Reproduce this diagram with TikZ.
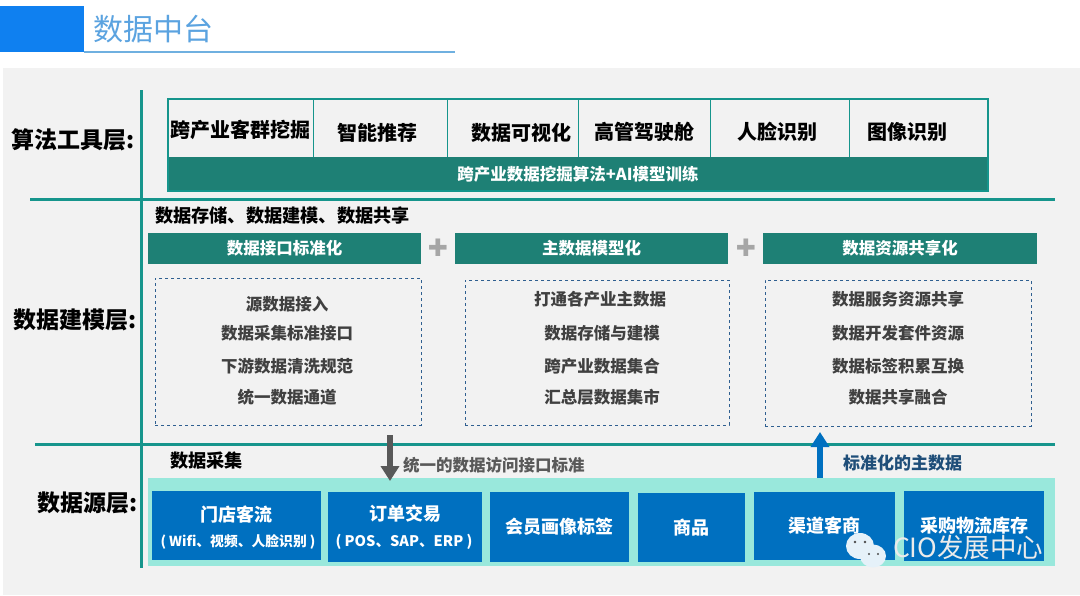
\documentclass[tikz,border=0pt]{standalone}
\usepackage{xcolor}
\usepackage{fontspec}
\setmainfont{Noto Sans CJK SC}
\newfontfamily\symfont{DejaVu Sans}
\usetikzlibrary{positioning, arrows.meta}
\definecolor{titleBlue}{HTML}{0F80F0}
\definecolor{titleText}{HTML}{5BA3E0}
\definecolor{titleLine}{HTML}{6FB0E0}
\definecolor{pageGrey}{HTML}{F2F2F2}
\definecolor{tealLine}{HTML}{16958C}
\definecolor{tealBand}{HTML}{1E8075}
\definecolor{aquaBand}{HTML}{99E8DC}
\definecolor{srcBlue}{HTML}{0070C0}
\definecolor{inkGrey}{HTML}{404040}
\definecolor{arrowGrey}{HTML}{595959}
\definecolor{plusGrey}{HTML}{A6A6A6}
\definecolor{dashBlue}{HTML}{2F5F90}
\definecolor{navyText}{HTML}{1F4E79}
\newcommand{\px}[1]{\fontsize{#1}{#1}\selectfont}
\tikzset{
  every node/.append style={outer sep=0pt},
  layerlbl/.style = {font=\px{23}\bfseries, text=black, inner sep=0pt},
  sublbl/.style   = {font=\px{18.2}\bfseries, text=black, inner sep=0pt},
  toolcell/.style = {draw=tealLine, line width=.8pt, anchor=north west, minimum height=58pt, inner sep=0pt},
  tooltext/.style = {font=\px{20}\bfseries, text=black, inner sep=0pt},
  header/.style   = {fill=tealBand, text=white, font=\px{16.5}\bfseries, minimum width=273pt,
                     minimum height=31pt, inner sep=0pt, anchor=north west},
  plussign/.style = {font=\symfont\px{24}, text=plusGrey, inner sep=0pt},
  zone/.style     = {draw=dashBlue, dashed, line width=.7pt, anchor=north west, inner sep=0pt},
  rowtext/.style  = {font=\px{16.5}\bfseries, text=inkGrey, inner sep=0pt, minimum height=20pt},
  src/.style      = {fill=srcBlue, text=white, font=\px{18}\bfseries, inner sep=0pt, anchor=north west},
  srcsub/.style   = {font=\px{13.8}\bfseries, text=white, inner sep=0pt},
  rule/.style     = {draw=tealLine, line width=3pt},
  fl/.style       = {-{Triangle[length=15pt, width=18pt]}, line width=6pt}
}
\begin{document}
\begin{tikzpicture}[x=1pt, y=-1pt, node distance=0pt]
  \useasboundingbox (0,0) rectangle (1080,595);
  \fill[white] (0,0) rectangle (1080,595);

  % --- page ground and title
  \node[fill=pageGrey, anchor=north west, minimum width=1077pt, minimum height=527pt, inner sep=0pt] (page) at (3,68) {};
  \node[fill=titleBlue, anchor=north west, minimum width=84pt, minimum height=46.5pt, inner sep=0pt] (titlebar) at (0,5.5) {};
  \node[font=\px{30}, text=titleText, inner sep=0pt, anchor=west] (title) at (93,29) {数据中台};
  \coordinate (titleend) at (455,52);
  \draw[titleLine, line width=1.2pt] (titlebar.south east) -- (titleend);

  % --- layer rules
  \coordinate (spinetop) at (141,90);
  \coordinate (spinebot) at (141,568);
  \coordinate (rulea) at (30,199);
  \coordinate (ruleaend) at (1055,199);
  \coordinate (ruleb) at (35,444);
  \coordinate (rulebend) at (1055,444);
  \draw[rule] (spinetop) -- (spinebot);
  \draw[rule] (rulea) -- (ruleaend);
  \draw[rule] (ruleb) -- (rulebend);

  \node[layerlbl, anchor=east] (lyralgo) at (135,140) {算法工具层:};
  \node[layerlbl, anchor=east] (lyrmodel) at (137,320) {数据建模层:};
  \node[layerlbl, anchor=east] (lyrsrc) at (138,503) {数据源层:};

  % --- algorithm tools (top)
  \node[toolcell, minimum width=145pt] (cella) at (168,99) {};
  \node[toolcell, minimum width=134pt, right=of cella.north east, anchor=north west] (cellb) {};
  \node[toolcell, minimum width=131pt, right=of cellb.north east, anchor=north west] (cellc) {};
  \node[toolcell, minimum width=132pt, right=of cellc.north east, anchor=north west] (celld) {};
  \node[toolcell, minimum width=139pt, right=of celld.north east, anchor=north west] (celle) {};
  \node[toolcell, minimum width=139pt, right=of celle.north east, anchor=north west] (cellf) {};
  \node[tooltext, yshift=-2pt] (toola) at (cella) {跨产业客群挖掘};
  \node[tooltext, xshift=-3pt, yshift=-5pt] (toolb) at (cellb) {智能推荐};
  \node[tooltext, xshift=9pt, yshift=-5pt] (toolc) at (cellc) {数据可视化};
  \node[tooltext, yshift=-4pt] (toold) at (celld) {高管驾驶舱};
  \node[tooltext, xshift=-2pt, yshift=-4pt] (toole) at (celle) {人脸识别};
  \node[tooltext, xshift=-11pt, yshift=-4pt] (toolf) at (cellf) {图像识别};
  \node[fill=tealBand, text=white, font=\px{16.5}\bfseries, anchor=north west, minimum width=820pt,
        minimum height=34pt, inner sep=0pt] (algoband) at (168,157) {跨产业数据挖掘算法+AI模型训练};
  \node[draw=tealLine, line width=2.5pt, anchor=north west, minimum width=820pt, minimum height=92pt,
        inner sep=0pt] (algoframe) at (168,99) {};

  % --- data modelling (middle)
  \node[sublbl, anchor=west] (modelhead) at (155,216) {数据存储、数据建模、数据共享};
  \node[header] (heada) at (148,233) {数据接口标准化};
  \node[header] (headb) at (455,233) {主数据模型化};
  \node[header, minimum width=274pt] (headc) at (763,233) {数据资源共享化};
  \node[plussign] (plusa) at (438,248) {✚};
  \node[plussign] (plusb) at (746,248) {✚};

  \node[zone, minimum width=266pt, minimum height=147pt] (zonea) at (155,278) {};
  \node[zone, minimum width=264pt, minimum height=145pt] (zoneb) at (465,280) {};
  \node[zone, minimum width=266pt, minimum height=146pt] (zonec) at (765,280) {};

  \node[rowtext] (rowaa) at (287,304) {源数据接入};
  \node[rowtext, below=9pt of rowaa] (rowab) {数据采集标准接口};
  \node[rowtext, below=13pt of rowab] (rowac) {下游数据清洗规范};
  \node[rowtext, below=11pt of rowac] (rowad) {统一数据通道};

  \node[rowtext] (rowba) at (600,299) {打通各产业主数据};
  \node[rowtext, below=14pt of rowba, xshift=2pt] (rowbb) {数据存储与建模};
  \node[rowtext, below=13pt of rowbb] (rowbc) {跨产业数据集合};
  \node[rowtext, below=11pt of rowbc] (rowbd) {汇总层数据集市};

  \node[rowtext] (rowca) at (898,299) {数据服务资源共享};
  \node[rowtext, below=14pt of rowca] (rowcb) {数据开发套件资源};
  \node[rowtext, below=13pt of rowcb] (rowcc) {数据标签积累互换};
  \node[rowtext, below=11pt of rowcc] (rowcd) {数据共享融合};

  % --- data sources (bottom)
  \node[fill=aquaBand, anchor=north west, minimum width=907pt, minimum height=88pt, inner sep=0pt] (aqua) at (148,478) {};
  \node[sublbl, anchor=west] (srchead) at (170,461) {数据采集};
  \node[src, minimum width=169pt, minimum height=69pt] (srca) at (152,491) {};
  \node[src, minimum width=154pt, minimum height=70pt] (srcb) at (328,492) {};
  \node[src, minimum width=139pt, minimum height=70pt] (srcc) at (490,492) {会员画像标签};
  \node[src, minimum width=107pt, minimum height=69pt] (srcd) at (638,493) {商品};
  \node[src, minimum width=141pt, minimum height=68pt] (srce) at (754,492) {渠道客商};
  \node[src, minimum width=140pt, minimum height=70pt] (srcf) at (904,491) {采购物流库存};
  \node[font=\px{18}\bfseries, text=white, inner sep=0pt] (srcatop) at (236,515) {门店客流};
  \node[srcsub] (srcasub) at (238,542) {( Wifi、视频、人脸识别 )};
  \node[font=\px{18}\bfseries, text=white, inner sep=0pt] (srcbtop) at (405,514) {订单交易};
  \node[srcsub, font=\px{14.6}\bfseries] (srcbsub) at (404,542) {( POS、SAP、ERP )};

  \coordinate (downtop) at (390,435);
  \coordinate (downend) at (390,481);
  \coordinate (upstart) at (820,478);
  \coordinate (upend) at (820,432);
  \draw[fl, arrowGrey] (downtop) -- (downend);
  \draw[fl, srcBlue] (upstart) -- (upend);
  \node[font=\px{16.5}\bfseries, text=arrowGrey, inner sep=0pt, anchor=west] (downlbl) at (403,465) {统一的数据访问接口标准};
  \node[font=\px{17}\bfseries, text=navyText, inner sep=0pt, anchor=west] (uplbl) at (843,463) {标准化的主数据};

  % --- mark in the corner
  \fill[white!90!srcBlue] (860,546) ellipse (14 and 13);
  \fill[white!90!srcBlue] (873,556) ellipse (13 and 11.5);
  \fill[black!70] (855,542) circle (1.3) (865,542) circle (1.3) (869,554) circle (1.2) (878,554) circle (1.2);
  \node[font=\px{26.5}, text=white!92!black, inner sep=0pt, anchor=west] (mark) at (893,547) {CIO发展中心};
\end{tikzpicture}
\end{document}
